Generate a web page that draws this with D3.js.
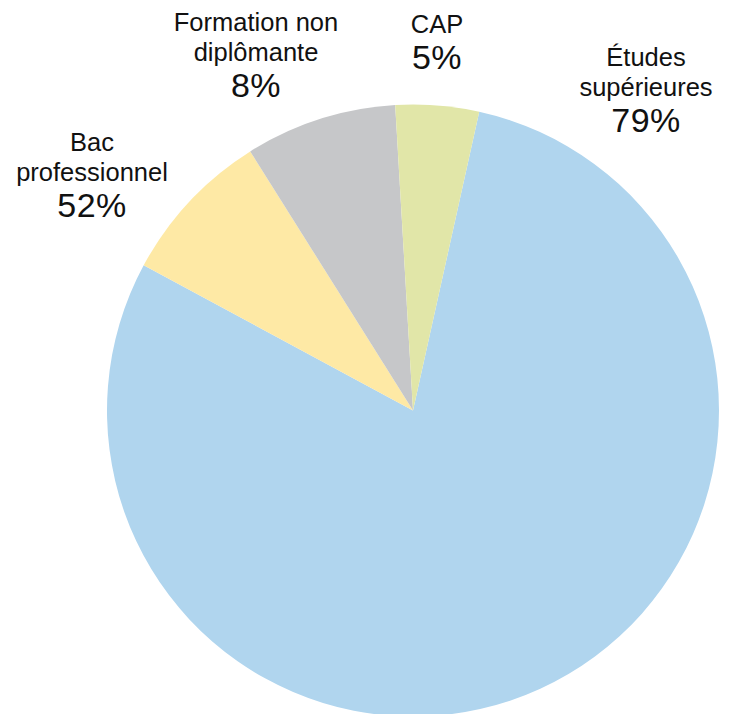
<!DOCTYPE html>
<html>
<head>
<meta charset="utf-8">
<script src="https://cdn.jsdelivr.net/npm/d3@7"></script>
<style>
  body { margin: 0; background: #fff; }
  text { font-family: 'Liberation Sans', Arial, Helvetica, sans-serif; fill: #111; }
</style>
</head>
<body>
<div class="container"></div>
<script>
// slices, clockwise from the Études start
const categories = ['Études supérieures', 'Bac professionnel', 'Formation non diplômante', 'CAP']
const shares = [79.4, 8.2, 8.0, 4.4]
// printed labels (as they appear on the chart)
const nameLines = [['Études', 'supérieures'], ['Bac', 'professionnel'], ['Formation non', 'diplômante'], ['CAP']]
const pctLabels = ['79%', '52%', '8%', '5%']
const colors = ['#b0d5ee', '#fee9a5', '#c6c7c9', '#e1e6a8']

const w = 733
const h = 714
const cx = 413
const cy = 410.5
const radius = 306
const startDeg = 12.5

// label anchor (x centre, baseline of the percentage)
const labelPos = [[646, 132], [92, 217], [256, 97], [437, 69]]

const svg = d3.select('.container')
  .append('svg')
  .attr('width', w)
  .attr('height', h)

const pie = d3.pie()
  .sort(null)
  .value(d => d)
  .startAngle(startDeg * Math.PI / 180)
  .endAngle(startDeg * Math.PI / 180 + 2 * Math.PI)

const arc = d3.arc()
  .innerRadius(0)
  .outerRadius(radius)

svg.append('g')
  .attr('transform', `translate(${cx}, ${cy})`)
  .selectAll('path')
  .data(pie(shares))
  .enter()
  .append('path')
  .attr('d', arc)
  .attr('fill', (d, i) => colors[i])

const labels = svg.selectAll('g.label')
  .data(categories)
  .enter()
  .append('g')
  .attr('class', 'label')
  .attr('transform', (d, i) => `translate(${labelPos[i][0]}, ${labelPos[i][1]})`)

labels.each(function (d, i) {
  const g = d3.select(this)
  const lines = nameLines[i]
  lines.forEach((line, j) => {
    g.append('text')
      .text(line)
      .attr('text-anchor', 'middle')
      .attr('font-size', 25.5)
      .attr('y', -36 - (lines.length - 1 - j) * 30)
  })
  g.append('text')
    .text(pctLabels[i])
    .attr('text-anchor', 'middle')
    .attr('font-size', 34)
    .attr('letter-spacing', 0.5)
    .attr('y', 0)
})
</script>
</body>
</html>
